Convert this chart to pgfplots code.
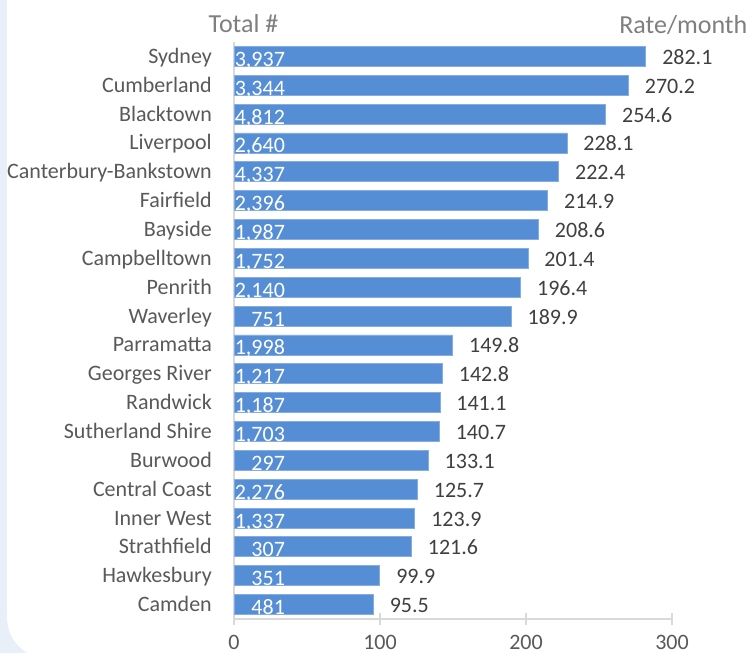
\documentclass[border=0pt]{standalone}
\usepackage{pgfplots}
\pgfplotsset{compat=1.18}
\usepackage{pgfplotstable}
\usepackage{fontspec}
\setmainfont{Carlito}
\definecolor{barblue}{HTML}{558ED5}
\definecolor{baredge}{HTML}{84AEE2}
\definecolor{bgblue}{HTML}{E9EFF9}
\definecolor{axgrey}{HTML}{D9D9D9}
\definecolor{labgrey}{HTML}{595959}
\definecolor{titgrey}{HTML}{7F7F7F}
\definecolor{valgrey}{HTML}{404040}

\pgfplotstableread{
idx rate total
0 95.5 481
1 99.9 351
2 121.6 307
3 123.9 1,337
4 125.7 2,276
5 133.1 297
6 140.7 1,703
7 141.1 1,187
8 142.8 1,217
9 149.8 1,998
10 189.9 751
11 196.4 2,140
12 201.4 1,752
13 208.6 1,987
14 214.9 2,396
15 222.4 4,337
16 228.1 2,640
17 254.6 4,812
18 270.2 3,344
19 282.1 3,937
}\data

\newcommand{\labfont}{\fontsize{22bp}{25bp}\selectfont}

\begin{document}
\begin{tikzpicture}
\path[use as bounding box] (0,0) rectangle (750bp,653bp);
\fill[bgblue] (0,0) rectangle (750bp,653bp);
\fill[white, rounded corners=42bp] (7bp,-6bp) rectangle (800bp,720bp);
\begin{axis}[
  at={(234bp,34bp)}, anchor=south west,
  scale only axis, width=438bp, height=577bp,
  xmin=0, xmax=300, ymin=-0.5, ymax=19.5,
  clip=false,
  /pgf/number format/assume math mode=true,
  axis x line*=bottom, axis y line*=left,
  axis line style={-, draw=axgrey, line width=1.5bp},
  xtick={0,100,200,300}, xtick align=center,
  major tick length=11bp,
  xtick style={draw=axgrey, line width=1.5bp},
  ytick={0,...,19},
  yticklabels={Camden,Hawkesbury,Strathfield,Inner West,Central Coast,Burwood,Sutherland Shire,Randwick,Georges River,Parramatta,Waverley,Penrith,Campbelltown,Bayside,Fairfield,Canterbury-Bankstown,Liverpool,Blacktown,Cumberland,Sydney},
  ytick style={draw=none},
  ticklabel style={font=\labfont, text=labgrey},
  yticklabel style={anchor=base east, inner sep=0pt, xshift=-22bp, yshift=-7bp},
  xticklabel style={anchor=north, inner sep=0pt, text depth=0pt, yshift=-11bp},
]
\addplot[xbar, bar width=20bp, fill=barblue, draw=baredge, line width=0.8bp,
  point meta=explicit symbolic, nodes near coords,
  nodes near coords style={anchor=base west, inner sep=0pt, xshift=16bp, yshift=-8bp, text=valgrey, font=\labfont}]
  table[x=rate, y=idx, meta=rate] {\data};
\addplot[draw=none, mark=none,
  point meta=explicit symbolic, nodes near coords,
  nodes near coords style={anchor=base east, inner sep=0pt, yshift=-10bp, text=white, font=\labfont}]
  table[x expr=35, y=idx, meta=total] {\data};
\end{axis}
\node[anchor=base, inner sep=0pt, text=titgrey, font=\fontsize{26bp}{30bp}\selectfont] at (243.5bp,620bp) {Total \#};
\node[anchor=base, inner sep=0pt, text=titgrey, font=\fontsize{26bp}{30bp}\selectfont] at (683.3bp,619.7bp) {Rate/month};
\end{tikzpicture}
\end{document}
